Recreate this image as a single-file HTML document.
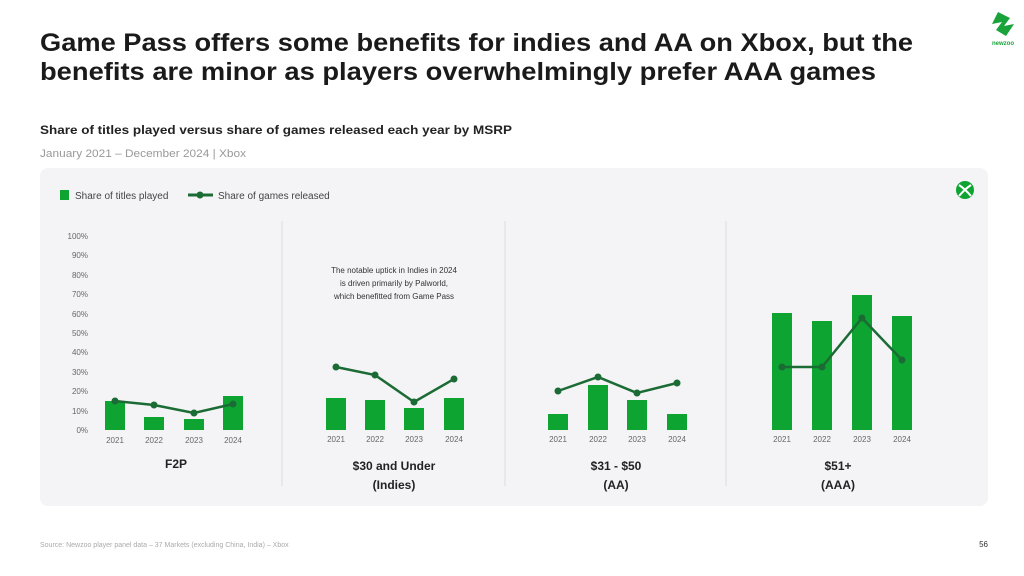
<!DOCTYPE html>
<html><head><meta charset="utf-8"><style>
html,body{margin:0;padding:0;background:#fff;}
svg{display:block;font-family:"Liberation Sans",sans-serif;}
</style></head><body>
<svg width="1024" height="576" viewBox="0 0 1024 576" xmlns="http://www.w3.org/2000/svg">
<rect width="1024" height="576" fill="#fff"/>
<text x="40" y="51" font-size="25" font-weight="bold" fill="#1a1a1a" textLength="873" lengthAdjust="spacingAndGlyphs">Game Pass offers some benefits for indies and AA on Xbox, but the</text>
<text x="40" y="80" font-size="25" font-weight="bold" fill="#1a1a1a" textLength="836" lengthAdjust="spacingAndGlyphs">benefits are minor as players overwhelmingly prefer AAA games</text>
<text x="40" y="134" font-size="12" font-weight="bold" fill="#222" textLength="472" lengthAdjust="spacingAndGlyphs">Share of titles played versus share of games released each year by MSRP</text>
<text x="40" y="157" font-size="11" fill="#999" textLength="206" lengthAdjust="spacingAndGlyphs">January 2021 – December 2024 | Xbox</text>
<!-- newzoo logo -->
<polygon points="998,12 1010,18 1004,26 1014,24 1006,36 996,30 1002,22 992,24" fill="#1aa33a"/>
<text x="1003" y="45" font-size="6" font-weight="bold" fill="#1aa33a" text-anchor="middle">newzoo</text>
<rect x="40" y="168" width="948" height="338" rx="8" fill="#f4f4f6"/>
<!-- legend -->
<rect x="60" y="190" width="9" height="10" fill="#0ea432"/>
<text x="75" y="199" font-size="10" fill="#444">Share of titles played</text>
<line x1="188" y1="195" x2="213" y2="195" stroke="#1b6b35" stroke-width="3"/>
<circle cx="200" cy="195" r="3.5" fill="#1b6b35"/>
<text x="218" y="199" font-size="10" fill="#444">Share of games released</text>
<!-- xbox icon -->
<circle cx="965" cy="190" r="9" fill="#0ea432"/>
<path d="M959,185 Q965,189 971,196 M971,185 Q965,189 959,196" stroke="#fff" stroke-width="2" fill="none"/>
<!-- y axis -->
<g font-size="8" fill="#666" text-anchor="end">
<text x="88" y="239">100%</text><text x="88" y="258">90%</text><text x="88" y="278">80%</text>
<text x="88" y="297">70%</text><text x="88" y="317">60%</text><text x="88" y="336">50%</text>
<text x="88" y="355">40%</text><text x="88" y="375">30%</text><text x="88" y="394">20%</text>
<text x="88" y="414">10%</text><text x="88" y="433">0%</text>
</g>
<!-- dividers -->
<g stroke="#ddd" stroke-width="1">
<line x1="282" y1="221" x2="282" y2="486"/><line x1="505" y1="221" x2="505" y2="486"/><line x1="726" y1="221" x2="726" y2="486"/>
</g>
<g fill="#0ea432">
<rect x="105" y="401" width="20" height="29"/><rect x="144" y="417" width="20" height="13"/><rect x="184" y="419" width="20" height="11"/><rect x="223" y="396" width="20" height="34"/>
<rect x="326" y="398" width="20" height="32"/><rect x="365" y="400" width="20" height="30"/><rect x="404" y="408" width="20" height="22"/><rect x="444" y="398" width="20" height="32"/>
<rect x="548" y="414" width="20" height="16"/><rect x="588" y="385" width="20" height="45"/><rect x="627" y="400" width="20" height="30"/><rect x="667" y="414" width="20" height="16"/>
<rect x="772" y="313" width="20" height="117"/><rect x="812" y="321" width="20" height="109"/><rect x="852" y="295" width="20" height="135"/><rect x="892" y="316" width="20" height="114"/>
</g>
<g stroke="#1b6b35" stroke-width="2.5" fill="none">
<polyline points="115,401 154,405 194,413 233,404"/>
<polyline points="336,367 375,375 414,402 454,379"/>
<polyline points="558,391 598,377 637,393 677,383"/>
<polyline points="782,367 822,367 862,318 902,360"/>
</g>
<g fill="#1b6b35">
<circle cx="115" cy="401" r="3.5"/><circle cx="154" cy="405" r="3.5"/><circle cx="194" cy="413" r="3.5"/><circle cx="233" cy="404" r="3.5"/>
<circle cx="336" cy="367" r="3.5"/><circle cx="375" cy="375" r="3.5"/><circle cx="414" cy="402" r="3.5"/><circle cx="454" cy="379" r="3.5"/>
<circle cx="558" cy="391" r="3.5"/><circle cx="598" cy="377" r="3.5"/><circle cx="637" cy="393" r="3.5"/><circle cx="677" cy="383" r="3.5"/>
<circle cx="782" cy="367" r="3.5"/><circle cx="822" cy="367" r="3.5"/><circle cx="862" cy="318" r="3.5"/><circle cx="902" cy="360" r="3.5"/>
</g>
<g font-size="8" fill="#666" text-anchor="middle">
<text x="115" y="443">2021</text><text x="154" y="443">2022</text><text x="194" y="443">2023</text><text x="233" y="443">2024</text>
<text x="336" y="442">2021</text><text x="375" y="442">2022</text><text x="414" y="442">2023</text><text x="454" y="442">2024</text>
<text x="558" y="442">2021</text><text x="598" y="442">2022</text><text x="637" y="442">2023</text><text x="677" y="442">2024</text>
<text x="782" y="442">2021</text><text x="822" y="442">2022</text><text x="862" y="442">2023</text><text x="902" y="442">2024</text>
</g>
<g font-size="8" fill="#333" text-anchor="middle">
<text x="394" y="273">The notable uptick in Indies in 2024</text>
<text x="394" y="286">is driven primarily by Palworld,</text>
<text x="394" y="299">which benefitted from Game Pass</text>
</g>
<g font-size="12" font-weight="bold" fill="#222" text-anchor="middle">
<text x="176" y="468">F2P</text>
<text x="394" y="470">$30 and Under</text><text x="394" y="489">(Indies)</text>
<text x="616" y="470">$31 - $50</text><text x="616" y="489">(AA)</text>
<text x="838" y="470">$51+</text><text x="838" y="489">(AAA)</text>
</g>
<text x="40" y="547" font-size="7" fill="#aaa">Source: Newzoo player panel data – 37 Markets (excluding China, India) – Xbox</text>
<text x="988" y="547" font-size="8" fill="#333" text-anchor="end">56</text>
</svg>
</body></html>
